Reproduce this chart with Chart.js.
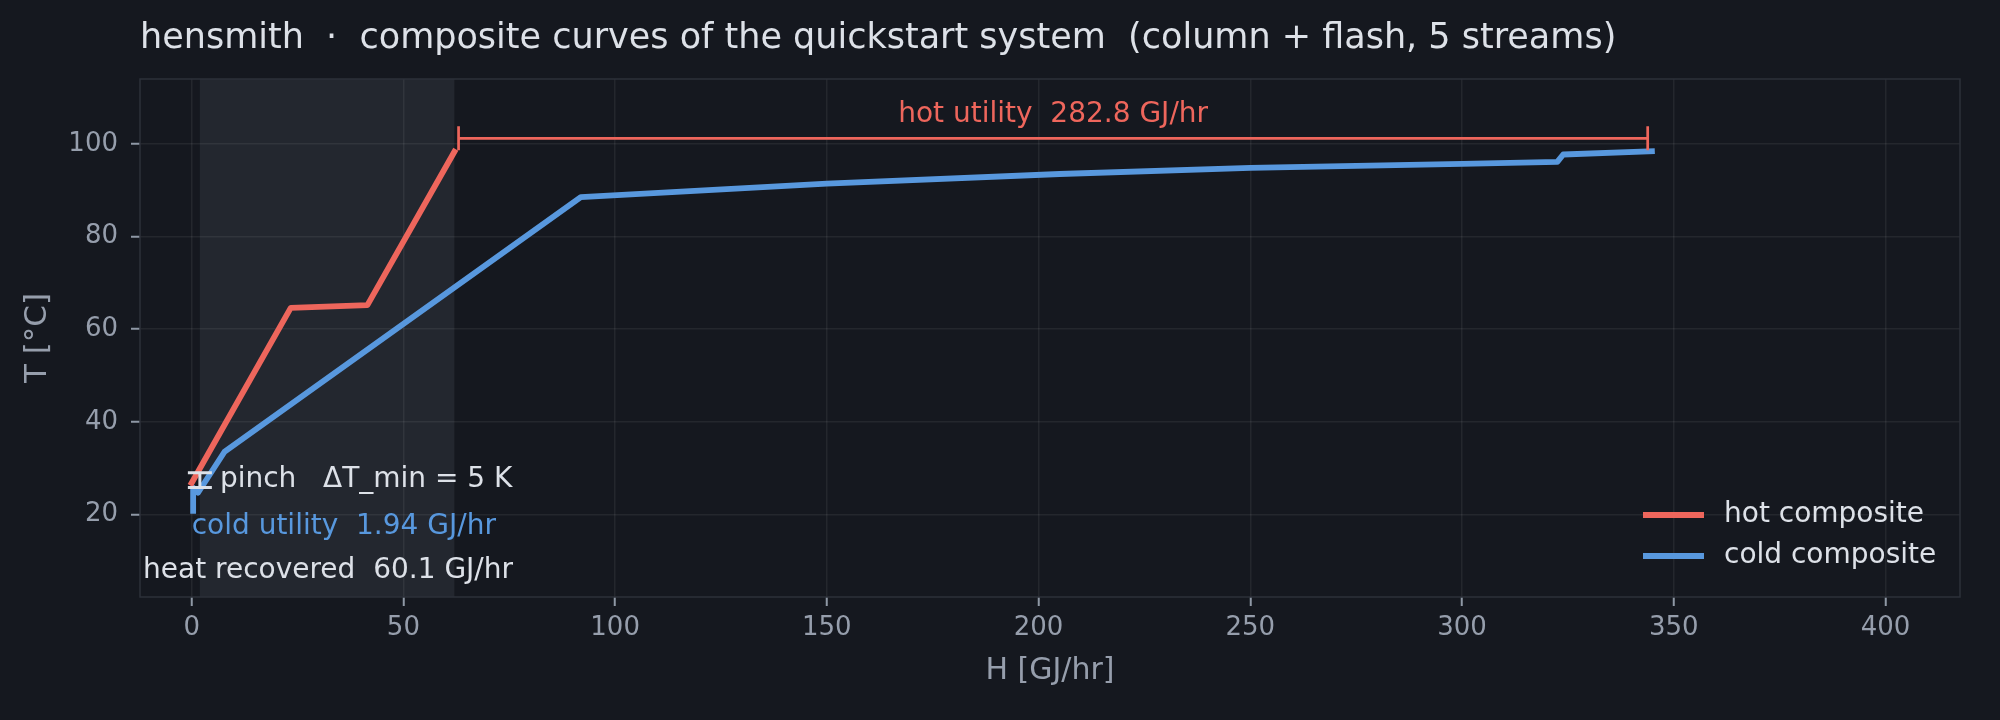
<!DOCTYPE html>
<html><head><meta charset="utf-8">
<script src="https://cdn.jsdelivr.net/npm/chart.js@4.4.1/dist/chart.umd.min.js"></script>
<style>html,body{margin:0;padding:0;background:#15181f;}canvas{display:block}</style>
</head><body>
<canvas id="c" width="2000" height="720"></canvas>
<script>
// ---- data ----
const titleText = 'hensmith  \u00b7  composite curves of the quickstart system  (column + flash, 5 streams)';
const xAxisLabel = 'H [GJ/hr]';
const yAxisLabel = 'T [\u00b0C]';
const seriesNames = ['hot composite', 'cold composite'];
const hotH  = [0, 23.4, 41.5, 62.04];
const hotT  = [26.8, 64.6, 65.2, 98.3];
const coldH = [0.35, 0.35, 1.5, 7.8, 91.9, 150, 205, 250, 300, 322.5, 323.9, 344.84];
const coldT = [20.8, 25.8, 24.7, 33.6, 88.5, 91.4, 93.5, 94.8, 95.7, 96.1, 97.7, 98.4];
const xTicks = [0, 50, 100, 150, 200, 250, 300, 350, 400];
const yTicks = [20, 40, 60, 80, 100];
const xRange = [-12.2, 417.6];
const yRange = [2.2, 114];
const coldUtility = 1.94;
const heatRecovered = 60.1;
const hotUtility = 282.8;
const dTmin = 5;
const pinchH = 1.94;
const pinchHotT = 29.9;
const pinchColdT = 24.9;
const hotUtilityBarT = 101.2;

// ---- style ----
const FONT = "'DejaVu Sans', sans-serif";
const C = {
  bg: '#15181f', shade: '#23272f', grid: 'rgba(255,255,255,0.065)', frame: '#2c313a',
  tick: '#8f98a6', label: '#969eac', text: '#dde1e8', hot: '#ee665c', cold: '#5898de'
};
const LW = 5.8;

const toPts = (xs, ys) => xs.map((x, i) => ({x: x, y: ys[i]}));

const deco = {
  id: 'deco',
  beforeDraw(chart) {
    const ctx = chart.ctx, a = chart.chartArea, xs = chart.scales.x;
    ctx.save();
    ctx.fillStyle = C.bg;
    ctx.fillRect(0, 0, chart.width, chart.height);
    const x0 = xs.getPixelForValue(coldUtility), x1 = xs.getPixelForValue(coldUtility + heatRecovered);
    ctx.fillStyle = C.shade;
    ctx.fillRect(x0, a.top, x1 - x0, a.bottom - a.top);
    ctx.restore();
  },
  afterDraw(chart) {
    const ctx = chart.ctx, a = chart.chartArea, xs = chart.scales.x, ys = chart.scales.y;
    ctx.save();
    // frame
    ctx.strokeStyle = C.frame; ctx.lineWidth = 1.5;
    ctx.strokeRect(a.left, a.top, a.right - a.left, a.bottom - a.top);

    // hot utility bracket |-|
    const shrink = 4.2;
    const bx0 = xs.getPixelForValue(coldUtility + heatRecovered) + shrink;
    const bx1 = xs.getPixelForValue(coldUtility + heatRecovered + hotUtility) - shrink;
    const by = ys.getPixelForValue(hotUtilityBarT);
    ctx.strokeStyle = C.hot; ctx.lineWidth = 2.7; ctx.lineCap = 'butt';
    ctx.beginPath();
    ctx.moveTo(bx0, by); ctx.lineTo(bx1, by);
    ctx.moveTo(bx0, by - 12); ctx.lineTo(bx0, by + 12);
    ctx.moveTo(bx1, by - 12); ctx.lineTo(bx1, by + 12);
    ctx.stroke();
    ctx.fillStyle = C.hot; ctx.font = '28px ' + FONT; ctx.textAlign = 'center'; ctx.textBaseline = 'alphabetic';
    ctx.fillText('hot utility  ' + hotUtility.toFixed(1) + ' GJ/hr', (bx0 + bx1) / 2, by - 16);

    // pinch marker
    const px = xs.getPixelForValue(pinchH);
    const py0 = ys.getPixelForValue(pinchHotT) + shrink;
    const py1 = ys.getPixelForValue(pinchColdT) - shrink;
    ctx.strokeStyle = C.text; ctx.lineWidth = 3;
    ctx.beginPath();
    ctx.moveTo(px, py0); ctx.lineTo(px, py1);
    ctx.moveTo(px - 12, py0); ctx.lineTo(px + 12, py0);
    ctx.moveTo(px - 12, py1); ctx.lineTo(px + 12, py1);
    ctx.stroke();

    ctx.textAlign = 'left';
    ctx.fillStyle = C.text;
    ctx.fillText('pinch   \u0394T_min = ' + dTmin + ' K', px + 20, (py0 + py1) / 2 + 7);
    ctx.fillStyle = C.cold;
    ctx.fillText('cold utility  ' + coldUtility.toFixed(2) + ' GJ/hr', xs.getPixelForValue(0), a.bottom - 63);
    ctx.fillStyle = C.text;
    ctx.fillText('heat recovered  ' + heatRecovered.toFixed(1) + ' GJ/hr', a.left + 3, a.bottom - 18.7);

    // legend
    chart.data.datasets.forEach((ds, i) => {
      const ly = a.bottom - 82 + i * 41;
      ctx.strokeStyle = ds.borderColor; ctx.lineWidth = LW; ctx.lineCap = 'butt';
      ctx.beginPath(); ctx.moveTo(a.right - 317, ly); ctx.lineTo(a.right - 256, ly); ctx.stroke();
      ctx.fillStyle = C.text; ctx.font = '28px ' + FONT; ctx.textBaseline = 'middle'; ctx.textAlign = 'left';
      ctx.fillText(ds.label, a.right - 236, ly);
    });

    // title
    ctx.fillStyle = C.text; ctx.font = '35px ' + FONT; ctx.textBaseline = 'alphabetic'; ctx.textAlign = 'left';
    ctx.fillText(titleText, a.left, 48);

    // axis titles
    ctx.fillStyle = C.label; ctx.font = '30px ' + FONT; ctx.textAlign = 'center';
    ctx.fillText(xAxisLabel, (a.left + a.right) / 2, 679);
    ctx.font = '31px ' + FONT;
    ctx.translate(38, (a.top + a.bottom) / 2);
    ctx.rotate(-Math.PI / 2);
    ctx.textBaseline = 'middle';
    ctx.fillText(yAxisLabel, 0, 0);
    ctx.restore();
  }
};

new Chart(document.getElementById('c'), {
  type: 'scatter',
  data: {
    datasets: [
      {label: seriesNames[0], data: toPts(hotH, hotT), showLine: true, borderColor: C.hot, backgroundColor: C.hot,
       borderWidth: LW, pointRadius: 0, borderJoinStyle: 'round', borderCapStyle: 'square', tension: 0},
      {label: seriesNames[1], data: toPts(coldH, coldT), showLine: true, borderColor: C.cold, backgroundColor: C.cold,
       borderWidth: LW, pointRadius: 0, borderJoinStyle: 'round', borderCapStyle: 'square', tension: 0}
    ]
  },
  options: {
    responsive: false, devicePixelRatio: 1, animation: false, events: [],
    layout: {padding: {top: 79, right: 40, left: 0, bottom: 0}},
    plugins: {legend: {display: false}, tooltip: {enabled: false}, title: {display: false}},
    scales: {
      x: {
        type: 'linear', min: xRange[0], max: xRange[1],
        afterBuildTicks: s => { s.ticks = xTicks.map(v => ({value: v})); },
        afterFit: s => { s.height = 123; },
        grid: {color: C.grid, lineWidth: 1.5, tickColor: C.tick, tickLength: 9, tickWidth: 2},
        border: {display: false},
        ticks: {color: C.label, font: {family: FONT, size: 26}, padding: 7, maxRotation: 0, autoSkip: false}
      },
      y: {
        type: 'linear', min: yRange[0], max: yRange[1],
        afterBuildTicks: s => { s.ticks = yTicks.map(v => ({value: v})); },
        afterFit: s => { s.width = 140; },
        grid: {color: C.grid, lineWidth: 1.5, tickColor: C.tick, tickLength: 9, tickWidth: 2},
        border: {display: false},
        ticks: {color: C.label, font: {family: FONT, size: 26}, padding: 13, autoSkip: false}
      }
    }
  },
  plugins: [deco]
});
</script>
</body></html>
